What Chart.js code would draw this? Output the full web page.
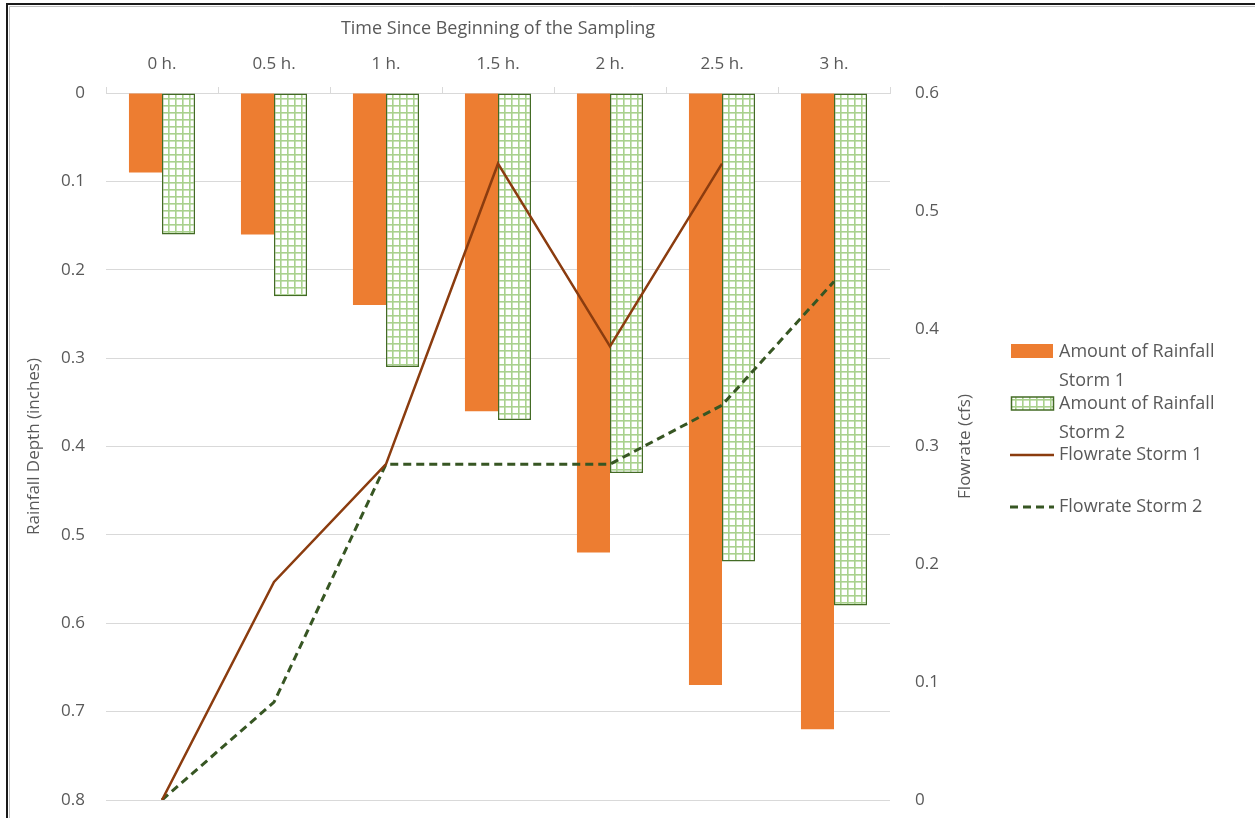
<!DOCTYPE html>
<html><head><meta charset="utf-8">
<script src="https://cdn.jsdelivr.net/npm/chart.js@4/dist/chart.umd.min.js"></script>
<style>html,body{margin:0;padding:0;background:#fff}#wrap{width:1255px;height:818px;position:relative}</style>
</head><body><div id="wrap"><canvas id="c" width="1255" height="818"></canvas></div>
<script>
const categories = ['0 h.', '0.5 h.', '1 h.', '1.5 h.', '2 h.', '2.5 h.', '3 h.'];
const rainStorm1 = [0.09, 0.16, 0.24, 0.36, 0.52, 0.67, 0.72];
const rainStorm2 = [0.16, 0.23, 0.31, 0.37, 0.43, 0.53, 0.58];
const flowStorm1 = [0, 0.185, 0.285, 0.54, 0.385, 0.54, null];
const flowStorm2 = [0, 0.083, 0.285, 0.285, 0.285, 0.335, 0.44];
const seriesNames = ['Amount of Rainfall Storm 1', 'Amount of Rainfall Storm 2', 'Flowrate Storm 1', 'Flowrate Storm 2'];
const legendLines = [['Amount of Rainfall', 'Storm 1'], ['Amount of Rainfall', 'Storm 2'], ['Flowrate Storm 1'], ['Flowrate Storm 2']];
const xTitle = 'Time Since Beginning of the Sampling';
const yLeftTitle = 'Rainfall Depth (inches)';
const yRightTitle = 'Flowrate (cfs)';

const FONT = '"Open Sans", "Noto Sans", sans-serif';
const TXT = '#595959';
const ORANGE = '#ed7d31';
const GRID_GREEN = '#a9d18e';
const DARK_GREEN = '#436b25';
const BROWN = '#8b3c0f';
const DASH_GREEN = '#375623';

function makePattern() {
  const t = document.createElement('canvas');
  t.width = 7; t.height = 7;
  const g = t.getContext('2d');
  g.fillStyle = '#fff'; g.fillRect(0, 0, 7, 7);
  g.fillStyle = GRID_GREEN;
  g.fillRect(0, 0, 7, 1.6);
  g.fillRect(0, 0, 1.6, 7);
  return g.createPattern(t, 'repeat');
}
const ctx0 = document.getElementById('c').getContext('2d');
const pattern = makePattern();

const framePlugin = {
  id: 'frame',
  beforeDraw(chart) {
    const c = chart.ctx;
    c.save();
    c.fillStyle = '#fff';
    c.fillRect(0, 0, chart.width, chart.height);
    c.restore();
  },
  afterDraw(chart) {
    const c = chart.ctx;
    c.save();
    c.strokeStyle = '#bfbfbf'; c.lineWidth = 1;
    c.beginPath(); c.moveTo(9.5, chart.height); c.lineTo(9.5, 6.5); c.lineTo(chart.width, 6.5); c.stroke();
    c.strokeStyle = '#1a1a1a'; c.lineWidth = 2;
    c.beginPath(); c.moveTo(7, chart.height); c.lineTo(7, 4); c.lineTo(chart.width, 4); c.stroke();
    const area = chart.chartArea;
    c.fillStyle = TXT;
    c.font = '17px ' + FONT;
    c.textAlign = 'center'; c.textBaseline = 'middle';
    c.translate(965, (area.top + area.bottom) / 2);
    c.rotate(-Math.PI / 2);
    c.fillText(yRightTitle, 0, 0);
    c.restore();
    c.save();
    c.font = '18px ' + FONT;
    c.fillStyle = TXT;
    c.textAlign = 'left'; c.textBaseline = 'middle';
    const lx = 1011, tx = 1059;
    c.fillStyle = ORANGE; c.fillRect(lx, 344, 42, 14);
    c.fillStyle = TXT;
    c.fillText(legendLines[0][0], tx, 352); c.fillText(legendLines[0][1], tx, 381);
    c.fillStyle = pattern; c.fillRect(lx, 397, 42, 13);
    c.strokeStyle = DARK_GREEN; c.lineWidth = 1.5; c.strokeRect(lx + 0.5, 397, 42, 13);
    c.fillStyle = TXT;
    c.fillText(legendLines[1][0], tx, 404); c.fillText(legendLines[1][1], tx, 433);
    c.strokeStyle = BROWN; c.lineWidth = 2.5;
    c.beginPath(); c.moveTo(lx - 1, 455); c.lineTo(lx + 43, 455); c.stroke();
    c.fillText(legendLines[2][0], tx, 455);
    c.strokeStyle = DASH_GREEN; c.lineWidth = 3; c.setLineDash([8, 5]);
    c.beginPath(); c.moveTo(lx - 1, 507); c.lineTo(lx + 43, 507); c.stroke();
    c.setLineDash([]);
    c.fillText(legendLines[3][0], tx, 507);
    c.restore();
  }
};

new Chart(ctx0, {
  type: 'bar',
  data: {
    labels: categories,
    datasets: [
      { type: 'line', label: seriesNames[2], data: flowStorm1, yAxisID: 'y1', borderColor: BROWN, borderWidth: 2.5, pointRadius: 0, tension: 0, spanGaps: false, order: 0 },
      { type: 'line', label: seriesNames[3], data: flowStorm2, yAxisID: 'y1', borderColor: DASH_GREEN, borderWidth: 3, borderDash: [8, 5], pointRadius: 0, tension: 0, order: 0 },
      { type: 'bar', label: seriesNames[0], data: rainStorm1, yAxisID: 'y', backgroundColor: ORANGE, borderWidth: 0, categoryPercentage: 0.59, barPercentage: 1, order: 1 },
      { type: 'bar', label: seriesNames[1], data: rainStorm2, yAxisID: 'y', backgroundColor: pattern, borderColor: DARK_GREEN, borderWidth: 1.5, borderSkipped: false, categoryPercentage: 0.59, barPercentage: 1, order: 1 }
    ]
  },
  options: {
    responsive: false,
    animation: false,
    events: [],
    layout: { padding: { top: 10, left: 10, right: 270, bottom: 18 } },
    plugins: { legend: { display: false }, tooltip: { enabled: false } },
    scales: {
      x: {
        position: 'top',
        offset: true,
        grid: { display: true, drawOnChartArea: false, drawTicks: true, tickLength: 6, color: '#d9d9d9', offset: true },
        border: { display: true, color: '#d9d9d9', width: 1 },
        ticks: { color: TXT, font: { family: FONT, size: 17 }, padding: 13, maxRotation: 0 },
        title: { display: true, text: xTitle, color: TXT, font: { family: FONT, size: 18 }, padding: { top: 8, bottom: 4 } },
        afterFit(s) { s.height = 83; }
      },
      y: {
        position: 'left',
        reverse: true,
        min: 0, max: 0.8,
        ticks: { stepSize: 0.1, color: TXT, font: { family: FONT, size: 17 }, padding: 0, callback: v => Math.round(v * 10) / 10 },
        grid: { color: '#d9d9d9', drawTicks: true, tickLength: 21, tickColor: 'rgba(0,0,0,0)', lineWidth: 1 },
        border: { display: false },
        title: { display: true, text: yLeftTitle, color: TXT, font: { family: FONT, size: 17 }, padding: { top: 14, bottom: 0 } },
        afterFit(s) { s.width = 96; }
      },
      y1: {
        position: 'right',
        min: 0, max: 0.6,
        ticks: { stepSize: 0.1, color: TXT, font: { family: FONT, size: 17 }, padding: 0, callback: v => Math.round(v * 10) / 10 },
        grid: { display: true, drawOnChartArea: false, drawTicks: true, tickLength: 25, tickColor: 'rgba(0,0,0,0)' },
        border: { display: false },
        afterFit(s) { s.width = 95; }
      }
    }
  },
  plugins: [framePlugin]
});
</script></body></html>
